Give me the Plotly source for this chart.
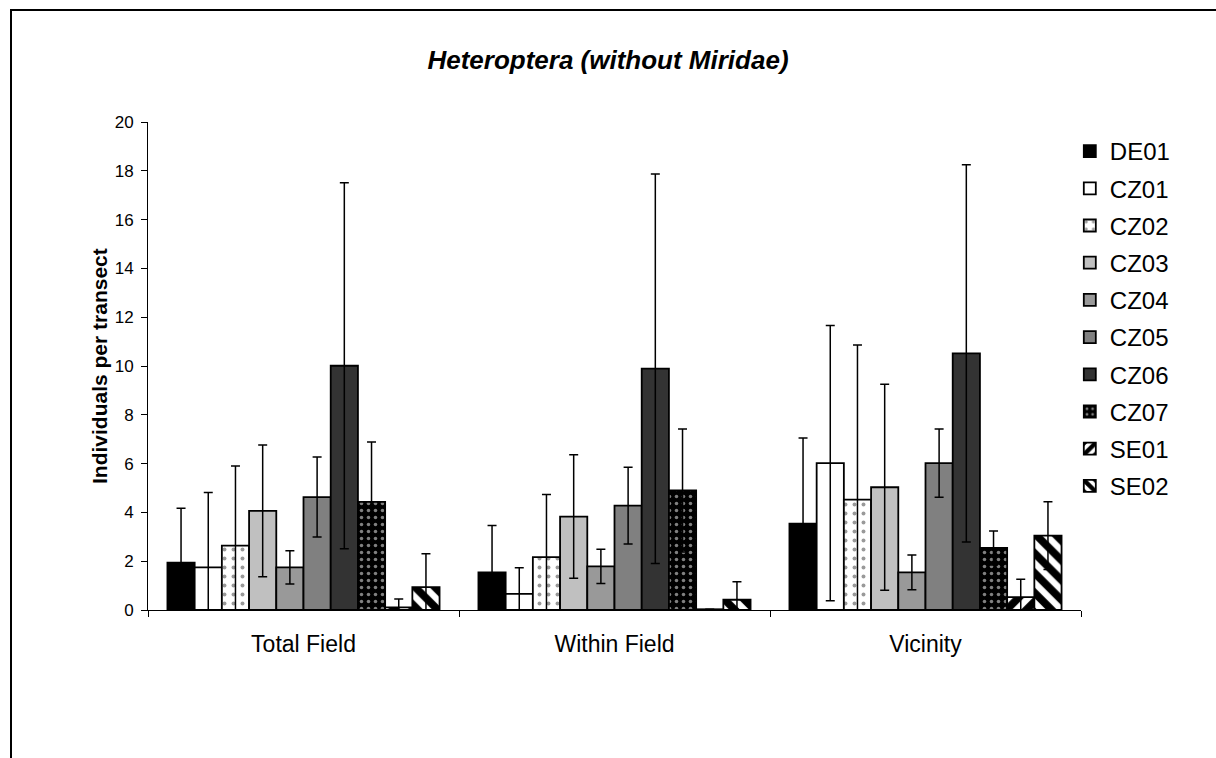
import plotly.graph_objects as go

# Sampling areas on the x axis
groups = ["Total Field", "Within Field", "Vicinity"]

# Sites (legend order)
sites = ["DE01", "CZ01", "CZ02", "CZ03", "CZ04", "CZ05", "CZ06", "CZ07", "SE01", "SE02"]

# Mean individuals per transect, one list per site (Total Field, Within Field, Vicinity)
de01 = [1.94, 1.54, 3.54]
cz01 = [1.75, 0.66, 6.02]
cz02 = [2.64, 2.17, 4.52]
cz03 = [4.06, 3.83, 5.03]
cz04 = [1.75, 1.79, 1.54]
cz05 = [4.63, 4.28, 6.02]
cz06 = [10.01, 9.89, 10.52]
cz07 = [4.43, 4.90, 2.54]
se01 = [0.11, 0.03, 0.53]
se02 = [0.94, 0.42, 3.05]

# Standard deviations
de01_sd = [2.23, 1.92, 3.51]
cz01_sd = [3.07, 1.07, 5.64]
cz02_sd = [3.26, 2.56, 6.34]
cz03_sd = [2.70, 2.53, 4.22]
cz04_sd = [0.68, 0.70, 0.71]
cz05_sd = [1.64, 1.57, 1.40]
cz06_sd = [7.50, 7.98, 7.73]
cz07_sd = [2.46, 2.52, 0.70]
se01_sd = [0.34, 0.0, 0.73]
se02_sd = [1.37, 0.74, 1.39]

means = [de01, cz01, cz02, cz03, cz04, cz05, cz06, cz07, se01, se02]
sds = [de01_sd, cz01_sd, cz02_sd, cz03_sd, cz04_sd, cz05_sd, cz06_sd, cz07_sd, se01_sd, se02_sd]

# Fill styles for each site
styles = [
    dict(color="#000000"),
    dict(color="#FFFFFF"),
    dict(color="#FFFFFF", pattern=dict(shape=".", bgcolor="#FFFFFF", fgcolor="#333333", size=9, solidity=0.15)),
    dict(color="#C0C0C0"),
    dict(color="#999999"),
    dict(color="#808080"),
    dict(color="#333333"),
    dict(color="#000000", pattern=dict(shape=".", bgcolor="#000000", fgcolor="#FFFFFF", size=7, solidity=0.2)),
    dict(color="#FFFFFF", pattern=dict(shape="/", bgcolor="#FFFFFF", fgcolor="#000000",
                                       fgopacity=1, size=14, solidity=0.55)),
    dict(color="#FFFFFF", pattern=dict(shape="\\", bgcolor="#FFFFFF", fgcolor="#000000",
                                       fgopacity=1, size=14, solidity=0.55)),
]

FONT = "Liberation Sans, Arial, sans-serif"

fig = go.Figure()
for name, m, sd, st in zip(sites, means, sds, styles):
    marker = dict(line=dict(color="#000000", width=1.8), **st)
    fig.add_trace(go.Bar(
        name=name, x=groups, y=m,
        marker=marker,
        legendgroup=name,
        error_y=dict(type="data", array=sd, visible=True, color="#000000",
                     thickness=1.5, width=4.5),
    ))

fig.update_layout(
    width=1216, height=758,
    margin=dict(l=148, r=135, t=122, b=148),
    paper_bgcolor="#FFFFFF", plot_bgcolor="#FFFFFF",
    barmode="group", bargap=0.125, bargroupgap=0,
    font=dict(family=FONT, color="#000000"),
    title=dict(text="<b><i>Heteroptera (without Miridae)</i></b>",
               x=0.5, xref="container", xanchor="center",
               y=1 - 60 / 758, yref="container", yanchor="middle",
               font=dict(size=26, family=FONT, color="#000000")),
    legend=dict(x=0.988, xanchor="left", y=1 - (129 - 122) / 488, yanchor="top",
                font=dict(size=24, family=FONT, color="#000000"),
                tracegroupgap=3, bgcolor="rgba(0,0,0,0)"),
    showlegend=True,
)

fig.update_xaxes(
    showline=True, linecolor="#000000", linewidth=1,
    ticks="outside", tickson="boundaries", ticklen=6, tickcolor="#000000",
    tickfont=dict(size=23, family=FONT, color="#000000"),
    ticklabelstandoff=13,
    showgrid=False, zeroline=False,
)
fig.update_yaxes(
    range=[0, 20], dtick=2, tick0=0,
    showline=True, linecolor="#000000", linewidth=1,
    ticks="outside", ticklen=6, tickcolor="#000000",
    tickfont=dict(size=17, family=FONT, color="#000000"),
    ticklabelstandoff=4,
    showgrid=False, zeroline=False,
)

# Y axis title
fig.add_annotation(
    text="<b>Individuals per transect</b>", textangle=-90,
    xref="paper", yref="paper", x=(99 - 148) / 933, y=0.5,
    xanchor="center", yanchor="middle", showarrow=False,
    font=dict(size=21, family=FONT, color="#000000"),
)

# Chart frame (open to the right and bottom)
fig.add_shape(
    type="rect", xref="paper", yref="paper",
    x0=(11 - 148) / 933, x1=1.3, y0=-0.5, y1=(610 - 10) / 488,
    line=dict(color="#000000", width=2), layer="above",
)

fig.write_html("out.html")
